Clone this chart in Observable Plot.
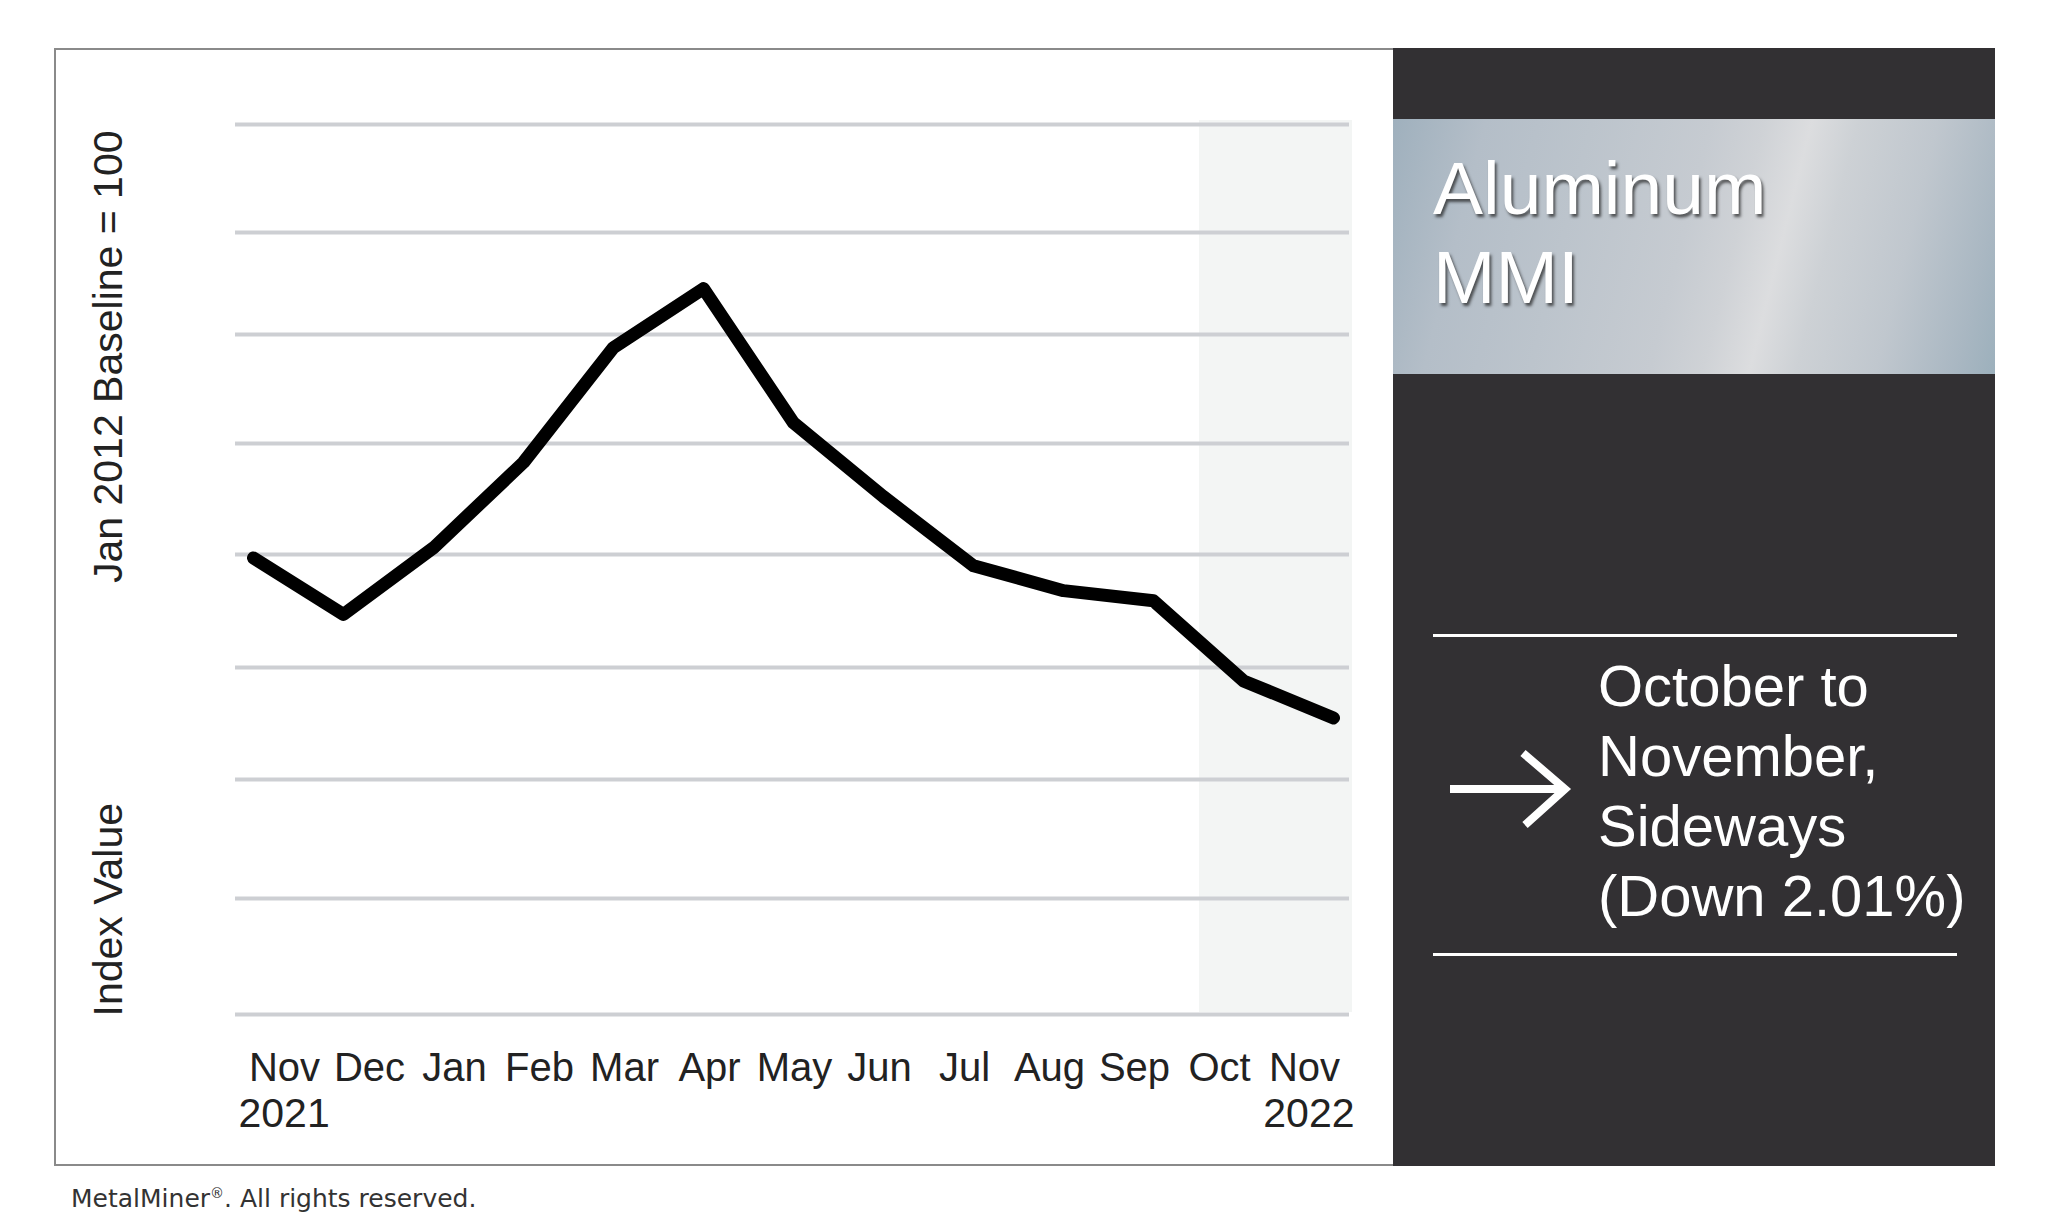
<!DOCTYPE html>
<html>
<head>
<meta charset="utf-8">
<script src="https://cdn.jsdelivr.net/npm/d3@7"></script>
<script src="https://cdn.jsdelivr.net/npm/@observablehq/plot@0.6"></script>
<style>
  html, body { margin: 0; padding: 0; background: #fff; }
  #root { position: relative; width: 2048px; height: 1230px; overflow: hidden; background: #fff;
          font-family: "Liberation Sans", Arial, Helvetica, sans-serif; }
  #frame { position: absolute; left: 54px; top: 48px; width: 1339px; height: 1118px;
           border: 2px solid #8a8a8a; border-right: none; box-sizing: border-box; }
  #mainPlot { position: absolute; left: 0; top: 0; }
  #axisPlot { position: absolute; left: 0; top: 1030px; }
  #panel { position: absolute; left: 1393px; top: 48px; width: 602px; height: 1118px; background: #323033; }
  #band { position: absolute; left: 0; top: 71px; width: 100%; height: 255px;
          background: linear-gradient(104deg, #9fb0bd 0%, #b4bec8 14%, #bcc4cc 30%, #c6cbd1 48%, #cfd2d6 56%, #dcdddf 63%, #cdd1d5 70%, #c0c7ce 82%, #a9b7c2 94%, #9cb0bc 100%); }
  #title { position: absolute; left: 40px; top: 96px; color: #fff; font-size: 75px; line-height: 89px;
           text-shadow: 2px 3px 3px rgba(30,30,30,0.7); white-space: nowrap; }
  .rule { position: absolute; left: 40px; width: 524px; height: 3px; background: #fff; }
  #note { position: absolute; left: 205px; top: 603px; color: #fff; font-size: 58px; line-height: 70px; white-space: nowrap; }
  #arrow { position: absolute; left: 0; top: 0; }
  #footer { position: absolute; left: 71px; top: 1179px; font-family: "DejaVu Sans", Verdana, sans-serif;
            font-size: 25px; line-height: 28px; color: #333; white-space: nowrap; }
  #footer .reg { font-size: 14px; vertical-align: 9px; }
</style>
</head>
<body>
<div id="root">
  <div id="frame"></div>
</div>
<script>
// ---- data ----
const monthKeys = ["2021-11","2021-12","2022-01","2022-02","2022-03","2022-04","2022-05","2022-06","2022-07","2022-08","2022-09","2022-10","2022-11"];
const monthLabels = ["Nov","Dec","Jan","Feb","Mar","Apr","May","Jun","Jul","Aug","Sep","Oct","Nov"];
const indexValues = [119.7, 114.7, 120.6, 128.3, 138.8, 144.5, 131.9, 125.2, 119.0, 116.8, 115.9, 108.8, 105.5];
const gridValues = [80, 90, 100, 110, 120, 130, 140, 150, 160];
const yearLabels = ["2021", "2022"];
const highlight = [{from: "2022-10", to: "2022-11"}];
const yTitleTop = "Jan 2012 Baseline = 100";
const yTitleBottom = "Index Value";
const panelTitle = ["Aluminum", "MMI"];
const panelNote = ["October to", "November,", "Sideways", "(Down 2.01%)"];
const footerText = ["MetalMiner", "®", ". All rights reserved."];

const series = monthKeys.map((k, i) => ({key: k, value: indexValues[i]}));
const labelOf = k => monthLabels[monthKeys.indexOf(k)];
const font = "'Liberation Sans', Arial, Helvetica, sans-serif";

// ---- main chart ----
const main = Plot.plot({
  width: 2048,
  height: 1230,
  marginTop: 124,
  marginBottom: 216,
  marginLeft: 235,
  marginRight: 699,
  style: {background: "transparent", fontFamily: font, color: "#222", overflow: "visible"},
  x: {type: "point", domain: monthKeys, range: [252, 1334], padding: 0, axis: null},
  y: {type: "linear", domain: gridValues, range: [1014, 898, 779, 667, 554, 443, 334, 232, 124], axis: null},
  marks: [
    Plot.rect(highlight, {
      x1: "from", x2: "to",
      y1: () => gridValues[0], y2: () => gridValues[gridValues.length - 1],
      fill: "#f3f5f4", insetLeft: -44, insetRight: -19, insetTop: -4, insetBottom: 2
    }),
    Plot.ruleY(gridValues, {stroke: "#cdcfd3", strokeWidth: 4}),
    Plot.line(series, {
      x: "key", y: "value", stroke: "#000", strokeWidth: 13,
      strokeLinecap: "round", strokeLinejoin: "round"
    }),
    Plot.text([yTitleTop], {
      text: d => d, frameAnchor: "top-left", rotate: -90, textAnchor: "end", lineAnchor: "middle",
      fontSize: 41, dx: -127, dy: 6, fill: "#222"
    }),
    Plot.text([yTitleBottom], {
      text: d => d, frameAnchor: "bottom-left", rotate: -90, textAnchor: "start", lineAnchor: "middle",
      fontSize: 41, dx: -127, dy: 2, fill: "#222"
    })
  ]
});
main.id = "mainPlot";
document.getElementById("root").appendChild(main);

// ---- x-axis labels ----
const axisPlot = Plot.plot({
  width: 2048,
  height: 140,
  marginTop: 50,
  marginBottom: 0,
  marginLeft: 0,
  marginRight: 0,
  style: {background: "transparent", fontFamily: font, color: "#222", overflow: "visible"},
  x: {type: "point", domain: monthKeys, range: [282, 1306], padding: 0, axis: null},
  marks: [
    Plot.axisX({anchor: "top", tickSize: 0, tickPadding: 0, tickFormat: labelOf, fontSize: 40, label: null, fill: "#222"}),
    Plot.text([yearLabels[0]], {
      x: () => monthKeys[0], text: d => d, frameAnchor: "top", textAnchor: "start",
      lineAnchor: "bottom", fontSize: 41, dx: -46, dy: 46, fill: "#222"
    }),
    Plot.text([yearLabels[1]], {
      x: () => monthKeys[monthKeys.length - 1], text: d => d, frameAnchor: "top", textAnchor: "end",
      lineAnchor: "bottom", fontSize: 41, dx: 50, dy: 46, fill: "#222"
    })
  ]
});
axisPlot.id = "axisPlot";
document.getElementById("root").appendChild(axisPlot);

// ---- right panel ----
const root = document.getElementById("root");
const panel = document.createElement("div");
panel.id = "panel";
panel.innerHTML = `
  <div id="band"></div>
  <div id="title">${panelTitle.join("<br>")}</div>
  <div class="rule" style="top:586px"></div>
  <div class="rule" style="top:905px"></div>
  <svg id="arrow" width="602" height="1118">
    <path d="M57,741 H172 M130,705 L172,741 L132,777" fill="none" stroke="#fff" stroke-width="8" stroke-linejoin="miter"/>
  </svg>
  <div id="note">${panelNote.join("<br>")}</div>`;
root.appendChild(panel);

const footer = document.createElement("div");
footer.id = "footer";
footer.innerHTML = `${footerText[0]}<span class="reg">${footerText[1]}</span>${footerText[2]}`;
root.appendChild(footer);
</script>
</body>
</html>
